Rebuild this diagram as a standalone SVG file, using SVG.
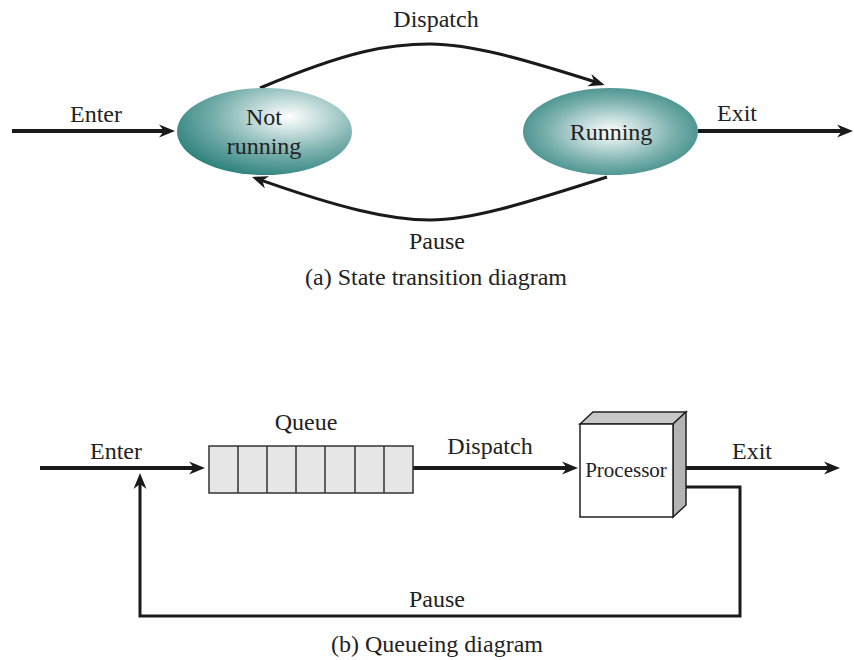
<svg xmlns="http://www.w3.org/2000/svg" width="854" height="660" viewBox="0 0 854 660">
<defs>
<radialGradient id="g1" cx="0.64" cy="0.33" r="0.72" fx="0.64" fy="0.33">
<stop offset="0" stop-color="#ffffff"/>
<stop offset="0.2" stop-color="#d2e5e4"/>
<stop offset="0.6" stop-color="#76aeab"/>
<stop offset="1" stop-color="#2e817d"/>
</radialGradient>
<radialGradient id="g2" cx="0.5" cy="0.5" r="0.62" fx="0.5" fy="0.5">
<stop offset="0" stop-color="#ffffff"/>
<stop offset="0.2" stop-color="#d2e5e4"/>
<stop offset="0.6" stop-color="#76aeab"/>
<stop offset="1" stop-color="#2e817d"/>
</radialGradient>
<marker id="ah" markerUnits="userSpaceOnUse" markerWidth="30" markerHeight="30" refX="10" refY="10" orient="auto" viewBox="0 0 30 30">
<path d="M18,10 L2,3.5 L7,10 L2,16.5 Z" fill="#1a1a1a"/>
</marker>
<style>
text{font-family:"Liberation Serif","Times New Roman",serif;font-size:24px;fill:#222;text-anchor:middle}
.ln{fill:none;stroke:#1a1a1a;stroke-width:4}
.cv{fill:none;stroke:#1a1a1a;stroke-width:3}
</style>
</defs>

<g id="connectors">
<line class="ln" x1="12" y1="131" x2="167" y2="131" marker-end="url(#ah)"/>
<line class="ln" x1="698" y1="131" x2="845" y2="131" marker-end="url(#ah)"/>
<path class="cv" d="M260,88 C350,50 390,44 430,44 C470,44 520,58 597,82.5" marker-end="url(#ah)"/>
<path class="cv" d="M607,177 C520,205 470,220 430,220 C390,220 340,208 259.5,179.6" marker-end="url(#ah)"/>
<line class="ln" x1="40" y1="468" x2="197" y2="468" marker-end="url(#ah)"/>
<line class="ln" x1="413" y1="468" x2="570" y2="468" marker-end="url(#ah)"/>
<line class="ln" x1="680" y1="468" x2="832" y2="468" marker-end="url(#ah)"/>
<path class="cv" d="M680,487 H740 V616 H140 V481" marker-end="url(#ah)"/>
</g>

<g id="not-running">
<ellipse cx="264.5" cy="131.5" rx="87.5" ry="43.5" fill="url(#g1)"/>
<text x="264" y="125">Not</text>
<text x="264" y="154">running</text>
</g>
<g id="running">
<ellipse cx="610.5" cy="131.5" rx="87.5" ry="43.5" fill="url(#g2)"/>
<text x="611" y="140">Running</text>
</g>

<g id="queue">
<rect x="209" y="446" width="204" height="47" fill="#e6e6e6" stroke="#333" stroke-width="1.5"/>
<path d="M238,446V493M267,446V493M296,446V493M325,446V493M355,446V493M384,446V493" stroke="#333" stroke-width="1.5"/>
</g>

<g id="processor">
<polygon points="580,424 593,412 686,412 673,424" fill="#c8c8c8" stroke="#222" stroke-width="1.5"/>
<polygon points="673,424 686,412 686,505 673,517" fill="#b4b4b4" stroke="#222" stroke-width="1.5"/>
<rect x="580" y="424" width="93" height="93" fill="#fff" stroke="#222" stroke-width="1.5"/>
<text x="626" y="477" style="font-size:21px">Processor</text>
</g>

<g id="labels">
<text x="436" y="27">Dispatch</text>
<text x="96" y="122">Enter</text>
<text x="737" y="121">Exit</text>
<text x="437" y="249">Pause</text>
<text x="436" y="285">(a) State transition diagram</text>
<text x="306" y="430">Queue</text>
<text x="116" y="459">Enter</text>
<text x="490" y="454">Dispatch</text>
<text x="752" y="459">Exit</text>
<text x="437" y="607">Pause</text>
<text x="437" y="652">(b) Queueing diagram</text>
</g>
</svg>
